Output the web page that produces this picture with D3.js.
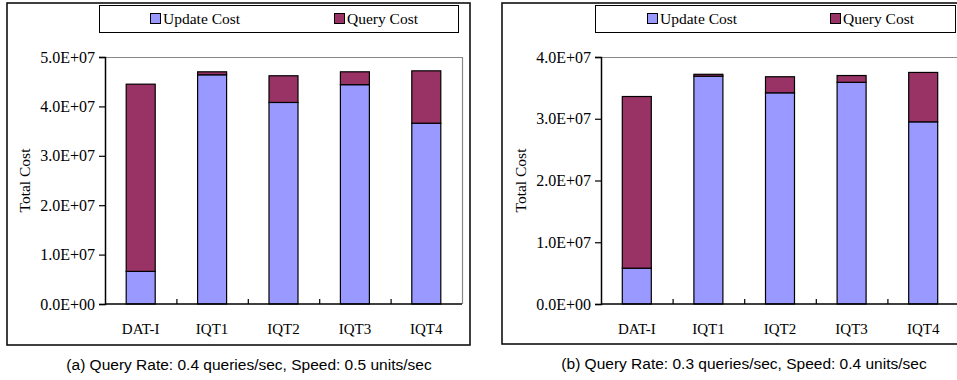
<!DOCTYPE html>
<html>
<head>
<meta charset="utf-8">
<script src="https://cdn.jsdelivr.net/npm/d3@7"></script>
<style>
  html, body { margin: 0; padding: 0; background: #fff; }
  svg { display: block; }
</style>
</head>
<body>
<svg id="chart" width="957" height="380"></svg>
<script>
// Stacked cost breakdown per index, for two workload settings
const categories = ["DAT-I", "IQT1", "IQT2", "IQT3", "IQT4"];
const seriesNames = ["Update Cost", "Query Cost"];

const updateCostA = [6.6e6, 46.4e6, 40.8e6, 44.4e6, 36.6e6];
const queryCostA  = [37.9e6, 0.6e6, 5.4e6, 2.6e6, 10.6e6];

const updateCostB = [5.8e6, 36.9e6, 34.2e6, 35.9e6, 29.5e6];
const queryCostB  = [27.8e6, 0.3e6, 2.6e6, 1.1e6, 8.0e6];

const yTicksA = [0, 1e7, 2e7, 3e7, 4e7, 5e7];
const yTickLabelsA = ["0.0E+00", "1.0E+07", "2.0E+07", "3.0E+07", "4.0E+07", "5.0E+07"];
const yTicksB = [0, 1e7, 2e7, 3e7, 4e7];
const yTickLabelsB = ["0.0E+00", "1.0E+07", "2.0E+07", "3.0E+07", "4.0E+07"];

const captionA = "(a)  Query Rate: 0.4 queries/sec, Speed: 0.5 units/sec";
const captionB = "(b) Query Rate: 0.3 queries/sec, Speed: 0.4 units/sec";
const yTitle = "Total Cost";

const colors = ["#9999ff", "#993366"];
const serif = "'Liberation Serif', 'Times New Roman', serif";
const sans = "'Liberation Sans', Arial, sans-serif";

const svg = d3.select("#chart");

function drawPanel(p) {
  const g = svg.append("g");

  // outer frame
  g.append("rect")
    .attr("x", p.frame[0]).attr("y", p.frame[1])
    .attr("width", p.frame[2] - p.frame[0]).attr("height", p.frame[3] - p.frame[1])
    .attr("fill", "none").attr("stroke", "#111").attr("stroke-width", 1.6);

  // legend box
  const lg = g.append("g");
  lg.append("rect")
    .attr("x", p.legend[0] + 0.5).attr("y", p.legend[1] + 0.5)
    .attr("width", p.legend[2] - p.legend[0]).attr("height", p.legend[3] - p.legend[1])
    .attr("fill", "#fff").attr("stroke", "#000").attr("stroke-width", 1);
  seriesNames.forEach((name, i) => {
    const sx = p.legendItems[i];
    lg.append("rect")
      .attr("x", sx + 0.5).attr("y", 13.5).attr("width", 10).attr("height", 10)
      .attr("fill", colors[i]).attr("stroke", "#000").attr("stroke-width", 1);
    lg.append("text")
      .attr("x", sx + 13).attr("y", 23.5)
      .attr("font-family", serif).attr("font-size", 15.5)
      .attr("fill", "#000").text(name);
  });

  const x = d3.scaleBand().domain(categories).range([p.plot[0], p.plot[2]]).paddingInner(0).paddingOuter(0);
  const y = d3.scaleLinear().domain([0, p.yMax]).range([p.plot[3], p.plot[1]]);
  const barW = 29;

  // plot area border (top and right in grey)
  g.append("path")
    .attr("d", `M${p.plot[0]},${p.plot[1] + 0.5}H${p.plot[2] + 0.5}V${p.plot[3]}`)
    .attr("fill", "none").attr("stroke", "#888").attr("stroke-width", 1.2);

  // stacked bars
  const rows = categories.map((c, i) => ({ cat: c, update: p.update[i], query: p.query[i] }));
  const stack = d3.stack().keys(["update", "query"])(rows);
  stack.forEach((layer, li) => {
    g.append("g").selectAll("rect").data(layer).join("rect")
      .attr("x", d => x(d.data.cat) + x.bandwidth() / 2 - barW / 2)
      .attr("y", d => y(d[1]))
      .attr("width", barW)
      .attr("height", d => y(d[0]) - y(d[1]))
      .attr("fill", colors[li])
      .attr("stroke", "#000").attr("stroke-width", 1.2);
  });

  // y axis
  const yAxis = d3.axisLeft(y).tickValues(p.yTicks)
    .tickFormat((d, i) => p.yTickLabels[i]).tickSize(6).tickPadding(4);
  const ya = g.append("g").attr("transform", `translate(${p.plot[0]},0)`).call(yAxis);
  ya.select(".domain").attr("stroke", "#000").attr("stroke-width", 1.5);
  ya.selectAll(".tick line").attr("stroke", "#000").attr("stroke-width", 1.2);
  ya.selectAll(".tick text").attr("font-family", serif).attr("font-size", 16).attr("fill", "#000");

  // x axis with inward ticks at category boundaries
  const xa = g.append("g").attr("transform", `translate(0,${p.plot[3]})`);
  xa.append("line")
    .attr("x1", p.plot[0]).attr("x2", p.plot[2])
    .attr("stroke", "#000").attr("stroke-width", 1.5);
  xa.selectAll("line.bt").data(categories.slice(1)).join("line")
    .attr("class", "bt")
    .attr("x1", d => x(d) + 0.5).attr("x2", d => x(d) + 0.5)
    .attr("y1", 0).attr("y2", -5)
    .attr("stroke", "#000").attr("stroke-width", 1.2);
  xa.selectAll("text").data(categories).join("text")
    .attr("x", d => x(d) + x.bandwidth() / 2)
    .attr("y", 30)
    .attr("text-anchor", "middle")
    .attr("font-family", serif).attr("font-size", 15)
    .attr("fill", "#000").text(d => d);

  // y axis title
  g.append("text")
    .attr("transform", `translate(${p.yTitleX},${(p.plot[1] + p.plot[3]) / 2}) rotate(-90)`)
    .attr("text-anchor", "middle")
    .attr("font-family", serif).attr("font-size", 15.5)
    .attr("fill", "#000").text(yTitle);

  // caption
  g.append("text")
    .attr("x", p.caption[0]).attr("y", p.caption[1])
    .attr("text-anchor", "middle")
    .attr("font-family", sans).attr("font-size", 15.5)
    .attr("fill", "#000").text(p.captionText);
}

drawPanel({
  frame: [7, 3, 470, 345],
  legend: [99, 5, 458, 32],
  legendItems: [150, 334],
  plot: [105, 57, 462, 304],
  yMax: 5e7,
  yTicks: yTicksA, yTickLabels: yTickLabelsA,
  update: updateCostA, query: queryCostA,
  yTitleX: 30,
  caption: [249, 370], captionText: captionA
});

drawPanel({
  frame: [502, 3, 990, 344],
  legend: [595, 5, 955, 32],
  legendItems: [647, 830],
  plot: [601, 57, 959, 304],
  yMax: 4e7,
  yTicks: yTicksB, yTickLabels: yTickLabelsB,
  update: updateCostB, query: queryCostB,
  yTitleX: 526,
  caption: [744, 369], captionText: captionB
});
</script>
</body>
</html>
